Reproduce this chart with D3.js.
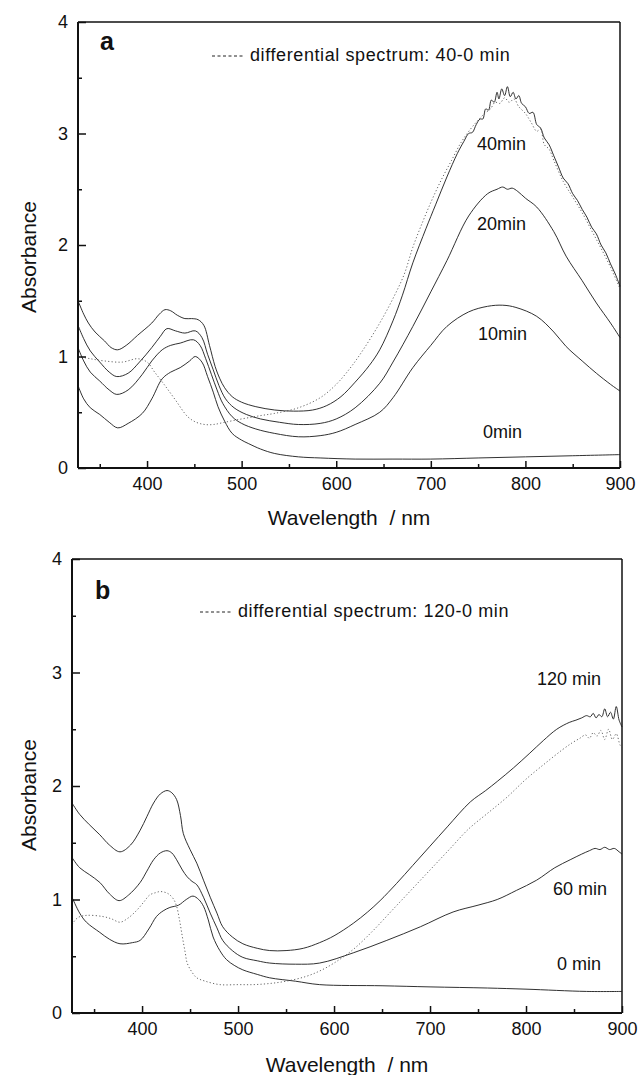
<!DOCTYPE html>
<html>
<head>
<meta charset="utf-8">
<script src="https://cdn.jsdelivr.net/npm/d3@7"></script>
<style>
body { margin: 0; background: #fff; }
svg text { font-family: Arial, "Liberation Sans", Helvetica, sans-serif; fill: #111; }
</style>
</head>
<body>
<svg id="chart" width="640" height="1075"></svg>
<script>
// ---- axis settings ----
var xDomain = [327, 900];
var yDomain = [0, 4];
var xMajor = [400, 500, 600, 700, 800, 900];
var xMinor = [350, 450, 550, 650, 750, 850];
var yMajor = [0, 1, 2, 3, 4];
var yMinor = [0.5, 1.5, 2.5, 3.5];
var xTitle = "Wavelength  / nm";
var yTitle = "Absorbance";

// ---- panel a : [wavelength nm, absorbance] ----
var a0min = [[327,0.74],[333,0.62],[340,0.54],[350,0.48],[360,0.41],[369,0.36],[380,0.40],[395,0.49],[405,0.62],
  [416,0.80],[425,0.86],[435,0.90],[445,0.96],[451,1.00],[458,0.95],[464,0.82],[470,0.68],[475,0.55],[482,0.42],
  [490,0.31],[500,0.25],[507,0.22],[520,0.17],[535,0.13],[560,0.10],[583,0.09],[620,0.08],[660,0.08],[700,0.08],
  [750,0.09],[800,0.10],[850,0.11],[900,0.12]];
var a10min = [[327,1.08],[333,0.96],[340,0.86],[350,0.78],[360,0.70],[368,0.66],[380,0.70],[395,0.84],[405,0.96],
  [416,1.06],[425,1.10],[435,1.12],[449,1.15],[456,1.10],[462,0.98],[468,0.84],[474,0.70],[480,0.58],[490,0.46],
  [500,0.40],[515,0.35],[535,0.31],[560,0.28],[583,0.29],[600,0.32],[620,0.39],[646,0.50],[660,0.63],[681,0.90],
  [700,1.10],[717,1.27],[740,1.40],[760,1.45],[776,1.46],[790,1.44],[812,1.36],[830,1.22],[843,1.09],[860,0.96],
  [875,0.85],[890,0.75],[900,0.69]];
var a20min = [[327,1.28],[333,1.16],[340,1.05],[350,0.95],[360,0.86],[368,0.82],[380,0.85],[392,0.95],[405,1.08],
  [414,1.18],[421,1.25],[430,1.23],[440,1.21],[451,1.23],[458,1.17],[464,1.02],[470,0.88],[476,0.74],[483,0.62],
  [492,0.54],[505,0.48],[520,0.44],[540,0.41],[560,0.39],[583,0.40],[600,0.44],[620,0.54],[646,0.76],[660,0.95],
  [681,1.27],[700,1.58],[717,1.86],[740,2.26],[760,2.46],[770,2.50],[776,2.52],[781,2.50],[786,2.51],[792,2.48],
  [800,2.42],[812,2.34],[830,2.12],[843,1.90],[860,1.68],[875,1.48],[890,1.30],[900,1.17]];
var a40min = [[327,1.50],[333,1.38],[338,1.30],[345,1.22],[355,1.14],[362,1.08],[369,1.06],[378,1.10],[390,1.19],
  [405,1.30],[413,1.38],[419,1.42],[425,1.41],[432,1.37],[440,1.34],[447,1.34],[454,1.33],[460,1.28],[466,1.10],
  [472,0.91],[477,0.80],[482,0.72],[490,0.64],[500,0.59],[515,0.55],[535,0.52],[555,0.51],[575,0.52],[590,0.56],
  [605,0.64],[620,0.77],[635,0.92],[646,1.06],[660,1.32],[670,1.55],[681,1.84],[695,2.15],[705,2.36],[717,2.61],
  [728,2.82],[735,2.93],[740,3.00],[744,3.01],[748,3.08],[752,3.13],[755,3.13],[758,3.22],[761,3.21],[764,3.30],
  [767,3.28],[770,3.37],[772,3.31],[775,3.40],[778,3.34],[781,3.42],[784,3.33],[787,3.37],[790,3.31],[793,3.34],
  [796,3.27],[800,3.24],[804,3.18],[808,3.19],[812,3.08],[816,3.05],[820,2.96],[825,2.90],[830,2.80],[835,2.70],
  [840,2.60],[845,2.55],[850,2.46],[855,2.40],[860,2.32],[865,2.25],[870,2.16],[875,2.10],[880,2.00],[885,1.93],
  [890,1.83],[895,1.74],[900,1.63]];
var aDiff = [[327,1.00],[340,0.98],[355,0.96],[374,0.95],[390,0.98],[400,0.95],[408,0.86],[418,0.75],[430,0.61],
  [443,0.46],[452,0.41],[461,0.39],[470,0.39],[482,0.41],[500,0.44],[520,0.47],[535,0.49],[560,0.54],[583,0.63],
  [600,0.75],[616,0.91],[630,1.08],[646,1.30],[660,1.52],[672,1.74],[681,1.98],[692,2.22],[702,2.42],[712,2.60],
  [722,2.76],[732,2.92],[742,3.04],[750,3.12],[757,3.18],[763,3.22],[768,3.28],[773,3.27],[778,3.32],[783,3.28],
  [788,3.31],[793,3.24],[800,3.18],[806,3.10],[812,3.02],[816,3.04],[820,2.90],[825,2.86],[830,2.76],[840,2.57],
  [850,2.43],[860,2.29],[870,2.13],[880,1.97],[890,1.80],[900,1.61]];

// ---- panel b : [wavelength nm, absorbance] ----
var b0min = [[327,1.02],[335,0.88],[342,0.80],[356,0.71],[366,0.65],[377,0.61],[390,0.62],[398,0.64],[407,0.74],
  [415,0.85],[422,0.90],[429,0.93],[438,0.95],[446,1.00],[453,1.03],[459,1.00],[464,0.94],[469,0.82],[474,0.67],
  [481,0.55],[488,0.47],[496,0.42],[505,0.38],[520,0.34],[533,0.31],[560,0.28],[585,0.25],[650,0.24],[700,0.23],
  [760,0.22],[800,0.21],[863,0.19],[900,0.19]];
var b60min = [[327,1.37],[335,1.28],[345,1.22],[356,1.15],[366,1.05],[376,0.99],[386,1.04],[398,1.15],[405,1.25],
  [412,1.35],[419,1.41],[426,1.43],[431,1.41],[436,1.35],[442,1.26],[447,1.20],[452,1.16],[457,1.13],[464,1.02],
  [471,0.88],[478,0.75],[484,0.64],[494,0.55],[505,0.49],[520,0.46],[533,0.44],[560,0.43],[585,0.44],[620,0.53],
  [655,0.64],[690,0.76],[724,0.89],[750,0.95],[770,1.00],[790,1.08],[811,1.17],[830,1.28],[846,1.35],[858,1.40],
  [866,1.43],[872,1.45],[877,1.44],[882,1.46],[887,1.44],[892,1.45],[897,1.42],[900,1.40]];
var b120min = [[327,1.85],[335,1.75],[345,1.66],[356,1.57],[366,1.48],[377,1.42],[388,1.48],[398,1.61],[405,1.73],
  [412,1.85],[419,1.93],[426,1.96],[431,1.94],[436,1.88],[440,1.74],[443,1.58],[450,1.44],[457,1.32],[464,1.17],
  [471,1.02],[478,0.88],[484,0.76],[494,0.67],[505,0.61],[520,0.57],[533,0.55],[550,0.55],[568,0.57],[585,0.62],
  [600,0.68],[620,0.79],[635,0.89],[648,0.99],[665,1.14],[682,1.30],[700,1.47],[718,1.64],[742,1.86],[758,1.96],
  [770,2.04],[787,2.16],[804,2.29],[818,2.40],[832,2.50],[845,2.56],[852,2.58],[858,2.60],[863,2.62],[867,2.61],
  [870,2.64],[873,2.60],[876,2.63],[879,2.61],[882,2.68],[885,2.61],[888,2.65],[891,2.59],[894,2.70],[897,2.58],
  [900,2.52]];
var bDiff = [[327,0.78],[333,0.84],[342,0.86],[359,0.85],[368,0.83],[377,0.80],[386,0.84],[395,0.91],[402,0.98],
  [408,1.04],[414,1.06],[419,1.07],[425,1.06],[429,1.04],[433,1.00],[436,0.94],[439,0.82],[442,0.67],[445,0.53],
  [447,0.44],[452,0.36],[457,0.31],[466,0.28],[481,0.25],[500,0.25],[516,0.25],[533,0.26],[550,0.28],[570,0.32],
  [585,0.37],[600,0.44],[620,0.56],[640,0.72],[660,0.90],[680,1.08],[700,1.26],[720,1.44],[740,1.62],[760,1.76],
  [780,1.90],[800,2.06],[820,2.20],[838,2.32],[848,2.38],[856,2.42],[862,2.45],[866,2.42],[870,2.47],[874,2.44],
  [878,2.49],[882,2.41],[886,2.50],[890,2.41],[894,2.46],[898,2.36],[900,2.34]];

var panels = [
  { tag: "a", left: 78, right: 620, top: 22, bottom: 468,
    tagX: 100, tagY: 50, legendX: 212, legendY: 56,
    legendText: "differential spectrum: 40-0 min",
    titleY: 525, ytitleY: 257,
    solid: [a0min, a10min, a20min, a40min], dotted: aDiff,
    labels: [["40min", 477, 150], ["20min", 477, 230], ["10min", 478, 340], ["0min", 483, 438]] },
  { tag: "b", left: 72, right: 622, top: 559, bottom: 1013,
    tagX: 95, tagY: 599, legendX: 200, legendY: 612,
    legendText: "differential spectrum: 120-0 min",
    titleY: 1072, ytitleY: 795,
    solid: [b0min, b60min, b120min], dotted: bDiff,
    labels: [["120 min", 537, 685], ["60 min", 553, 895], ["0 min", 557, 970]] }
];

var svg = d3.select("#chart");
svg.append("rect").attr("width", 640).attr("height", 1075).attr("fill", "#fff");

function styleTicks(a) {
  a.select(".domain").remove();
  a.selectAll("line").attr("stroke", "#111").attr("stroke-width", 1.5);
  a.selectAll("text").attr("font-size", 18).attr("fill", "#111")
    .style("font-family", "Arial, 'Liberation Sans', sans-serif");
}

function drawPanel(p) {
  var x = d3.scaleLinear().domain(xDomain).range([p.left, p.right]);
  var y = d3.scaleLinear().domain(yDomain).range([p.bottom, p.top]);
  var g = svg.append("g");

  var line = d3.line()
    .x(function(d){ return x(d[0]); })
    .y(function(d){ return y(d[1]); })
    .curve(d3.curveCatmullRom.alpha(0.5));

  // spectra
  p.solid.forEach(function(s){
    g.append("path").datum(s).attr("d", line)
      .attr("fill", "none").attr("stroke", "#1a1a1a").attr("stroke-width", 0.9);
  });
  g.append("path").datum(p.dotted).attr("d", line)
    .attr("fill", "none").attr("stroke", "#555").attr("stroke-width", 0.9)
    .attr("stroke-dasharray", "1.2,2.2");

  // minor ticks
  g.append("g").attr("transform", "translate(0," + p.bottom + ")")
    .call(d3.axisBottom(x).tickValues(xMinor).tickSizeInner(-4).tickSizeOuter(0).tickFormat(""))
    .call(styleTicks);
  g.append("g").attr("transform", "translate(" + p.left + ",0)")
    .call(d3.axisLeft(y).tickValues(yMinor).tickSizeInner(-4).tickSizeOuter(0).tickFormat(""))
    .call(styleTicks);

  // major ticks with labels
  g.append("g").attr("transform", "translate(0," + p.bottom + ")")
    .call(d3.axisBottom(x).tickValues(xMajor).tickSizeInner(-7).tickSizeOuter(0).tickPadding(9))
    .call(styleTicks);
  g.append("g").attr("transform", "translate(" + p.left + ",0)")
    .call(d3.axisLeft(y).tickValues(yMajor).tickSizeInner(-8).tickSizeOuter(0).tickPadding(10).tickFormat(d3.format("d")))
    .call(styleTicks);

  // frame
  g.append("line").attr("x1", p.left).attr("x2", p.right).attr("y1", p.top).attr("y2", p.top)
    .attr("stroke", "#111").attr("stroke-width", 1.5);
  g.append("line").attr("x1", p.right).attr("x2", p.right).attr("y1", p.top).attr("y2", p.bottom)
    .attr("stroke", "#111").attr("stroke-width", 1.5);
  g.append("line").attr("x1", p.left).attr("x2", p.right).attr("y1", p.bottom).attr("y2", p.bottom)
    .attr("stroke", "#111").attr("stroke-width", 2);
  g.append("line").attr("x1", p.left).attr("x2", p.left).attr("y1", p.top).attr("y2", p.bottom)
    .attr("stroke", "#111").attr("stroke-width", 2);

  // panel tag
  g.append("text").attr("x", p.tagX).attr("y", p.tagY)
    .attr("font-size", 25).attr("font-weight", "bold").text(p.tag);

  // legend
  g.append("line").attr("x1", p.legendX).attr("x2", p.legendX + 33)
    .attr("y1", p.legendY).attr("y2", p.legendY)
    .attr("stroke", "#222").attr("stroke-width", 1).attr("stroke-dasharray", "3,2.5");
  g.append("text").attr("x", p.legendX + 38).attr("y", p.legendY + 5)
    .attr("font-size", 18).style("letter-spacing", "0.6px").text(p.legendText);

  // curve labels
  p.labels.forEach(function(l){
    g.append("text").attr("x", l[1]).attr("y", l[2]).attr("font-size", 18).text(l[0]);
  });

  // axis titles
  g.append("text").attr("x", (p.left + p.right) / 2).attr("y", p.titleY)
    .attr("text-anchor", "middle").attr("font-size", 21).style("white-space", "pre")
    .text(xTitle);
  g.append("text").attr("transform", "translate(36," + p.ytitleY + ") rotate(-90)")
    .attr("text-anchor", "middle").attr("font-size", 21).text(yTitle);
}

panels.forEach(drawPanel);
</script>
</body>
</html>
